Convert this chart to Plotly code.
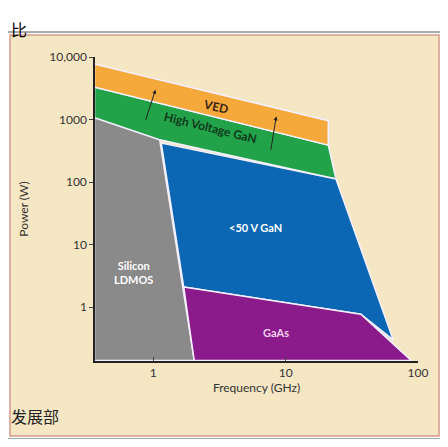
import math
import plotly.graph_objects as go

# region outlines (frequency GHz, power W)
ved_x = [0.36, 21, 21, 0.36]
ved_y = [7700, 960, 390, 3300]
hv_x = [0.36, 21, 24, 1.1, 0.36]
hv_y = [3300, 390, 112, 480, 1070]
si_x = [0.36, 1.1, 2.04, 0.36]
si_y = [1070, 600, 0.14, 0.14]
gan_x = [1.15, 24, 65, 37, 1.7]
gan_y = [420, 112, 0.3, 0.77, 2.1]
gaas_x = [1.7, 37, 89, 2.04]
gaas_y = [2.1, 0.77, 0.14, 0.14]

x_ticks = [1, 10, 100]
x_tick_text = ['1', '10', '100']
y_ticks = [1, 10, 100, 1000, 10000]
y_tick_text = ['1', '10', '100', '1000', '10,000']

labels = ['VED', 'High Voltage GaN', '<50 V GaN', 'Silicon<br>LDMOS', 'GaAs']
label_x = [2.95, 2.7, 5.9, 0.71, 8.4]
label_y = [1600, 740, 18.6, 3.6, 0.4]
label_color = ['#3a2410', '#0e3a1a', 'white', 'white', '#f6d2f0']
label_angle = [13, 14, 0, 0, 0]

arrow_x0 = [0.87, 7.7]
arrow_y0 = [940, 310]
arrow_x1 = [1.04, 8.5]
arrow_y1 = [3000, 1120]

lg = math.log10

fig = go.Figure()
regions = [
    (si_x, si_y, '#8a8a8a'),
    (hv_x, hv_y, '#22a34a'),
    (ved_x, ved_y, '#f4a93a'),
    (gan_x, gan_y, '#0b66b3'),
    (gaas_x, gaas_y, '#8b1a8a'),
]
for xs, ys, col in regions:
    fig.add_trace(go.Scatter(x=xs + xs[:1], y=ys + ys[:1], fill='toself', fillcolor=col,
                             mode='lines', line=dict(color='#f4f0ff', width=1.5),
                             hoverinfo='skip', showlegend=False))

# annotations on log axes take log10 positions
for t, x, y, c, a in zip(labels, label_x, label_y, label_color, label_angle):
    fig.add_annotation(x=lg(x), y=lg(y), text='<b>%s</b>' % t, showarrow=False, textangle=a,
                       font=dict(color=c, size=12 if a else 11, family='Lato'))

for x0, y0, x1, y1 in zip(arrow_x0, arrow_y0, arrow_x1, arrow_y1):
    fig.add_annotation(x=lg(x1), y=lg(y1), ax=lg(x0), ay=lg(y0), xref='x', yref='y',
                       axref='x', ayref='y', text='', showarrow=True, arrowhead=2,
                       arrowsize=0.8, arrowwidth=1, arrowcolor='#222')


# page decorations in paper coords (reference pixels)
def px(p):
    return (p - 95) / 323


def py(p):
    return (361 - p) / 304


fig.add_shape(type='rect', xref='paper', yref='paper', x0=px(10), x1=px(439), y0=py(436), y1=py(35),
              fillcolor='#f5e6c4', line=dict(color='#d59a8a', width=1.5), layer='below')
fig.add_shape(type='line', xref='paper', yref='paper', x0=px(8), x1=px(448), y0=py(32), y1=py(32),
              line=dict(color='#555', width=1))
fig.add_shape(type='line', xref='paper', yref='paper', x0=px(8), x1=px(448), y0=py(439), y1=py(439),
              line=dict(color='#2f5a5a', width=1))
fig.add_annotation(xref='paper', yref='paper', x=px(9), y=py(15), text='比', showarrow=False,
                   xanchor='left', font=dict(size=16, color='black', family='Noto Sans CJK SC'))
fig.add_annotation(xref='paper', yref='paper', x=px(9), y=py(430), text='发展部', showarrow=False,
                   xanchor='left', font=dict(size=16, color='#222', family='Noto Sans CJK SC'))

fig.update_xaxes(type='log', range=[-0.44, 2.0], tickvals=x_ticks, ticktext=x_tick_text,
                 showgrid=False, zeroline=False, showline=True, linecolor='#222', linewidth=1.5,
                 ticks='inside', ticklen=4,
                 title=dict(text='Frequency (GHz)', standoff=4, font=dict(size=12, color='#333')))
fig.update_yaxes(type='log', range=[-0.86, 4.0], tickvals=y_ticks, ticktext=y_tick_text,
                 showgrid=False, zeroline=False, showline=True, linecolor='#222', linewidth=1.5,
                 ticks='outside', ticklen=4,
                 title=dict(text='Power (W)', standoff=18, font=dict(size=12, color='#333')))
fig.update_layout(width=432, height=431, margin=dict(l=87, r=22, t=49, b=78),
                  paper_bgcolor='white', plot_bgcolor='rgba(0,0,0,0)',
                  font=dict(family='Lato', size=12, color='#333'))
fig.write_html('out.html')
